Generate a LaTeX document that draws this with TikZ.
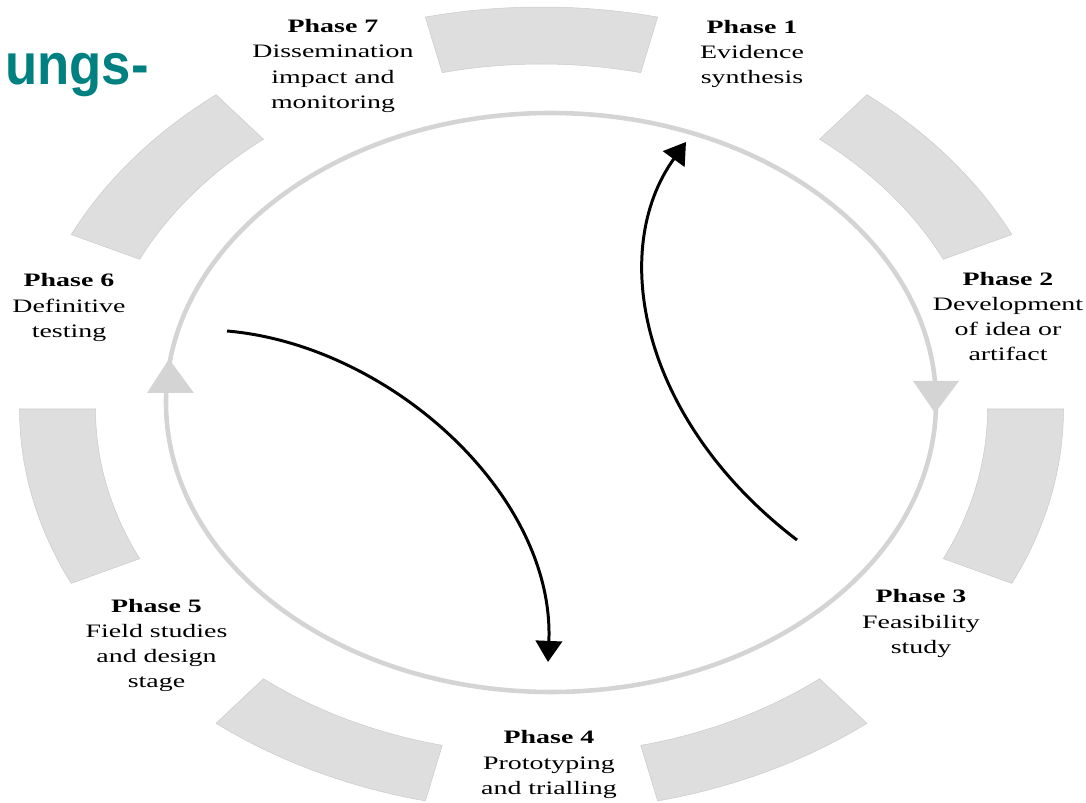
\documentclass[tikz,border=0pt]{standalone}
\usepackage{fontspec}
\setmainfont{Liberation Serif}
\newfontfamily\slidefont{Liberation Sans}
\usetikzlibrary{arrows.meta}

\definecolor{slideteal}{RGB}{0,128,128}
\definecolor{ringgray}{RGB}{222,222,222}
\definecolor{trackgray}{RGB}{212,212,212}

% label text is stretched sideways like the rest of the figure
\newcommand\phaselabel[2]{\scalebox{1.47}[1]{\begin{tabular}{@{}c@{}}\textbf{Phase #1}\\#2\end{tabular}}}

\begin{document}
\begin{tikzpicture}[x=0.02cm, y=0.02cm,
    phase/.style={font=\fontsize{10.8}{14.3}\selectfont, inner sep=0pt},
    segment/.style={fill=ringgray, draw=ringgray!92!black, line width=0.3pt},
    track/.style={draw=trackgray, line width=2.6pt},
    flow/.style={line width=1.7pt, -{Triangle[width=15pt,length=12pt]}}]

\clip (0,0) rectangle (1086,-803);

% outer ring: seven grey pieces, the gaps hold the labels
\foreach \i in {0,...,6}{% one piece between each pair of phases
    \pgfmathsetmacro\s{77.143-51.4286*\i}
    \pgfmathsetmacro\e{\s+25.714}
    \fill[segment, shift={(541.5,-409)}] (\s:522 and 402)
        arc[start angle=\s, end angle=\e, x radius=522, y radius=402]
        -- (\e:446 and 345)
        arc[start angle=\e, end angle=\s, x radius=446, y radius=345] -- cycle;}

% inner cycle with its two grey heads
\draw[track] (551,-402.5) ellipse[x radius=385, y radius=289.5];
\fill[trackgray] (913,-381) -- (959,-381) -- (935,-413) -- cycle;
\fill[trackgray] (147,-393) -- (194,-393) -- (169,-359) -- cycle;

%\draw[red] (541.5,-409) circle (3);

\node[phase] (p1) at (752,-53.5) {\phaselabel{1}{Evidence\\synthesis}};
\node[phase] (p2) at (1008,-318) {\phaselabel{2}{Development\\of idea or\\artifact}};
\node[phase] (p3) at (921,-623) {\phaselabel{3}{Feasibility\\study}};
\node[phase] (p4) at (549,-764) {\phaselabel{4}{Prototyping\\and trialling}};
\node[phase] (p5) at (156.5,-645) {\phaselabel{5}{Field studies\\and design\\stage}};
\node[phase] (p6) at (69,-307) {\phaselabel{6}{Definitive\\testing}};
\node[phase] (p7) at (333,-65.5) {\phaselabel{7}{Dissemination\\impact and\\monitoring}};

% the two feedback arrows across the middle
\coordinate (backstart) at (797,-540);
\coordinate (backend) at (686,-142);
\coordinate (jumpstart) at (227,-331);
\coordinate (jumpend) at (548,-662);
\draw[flow] (backstart) .. controls (640,-420) and (608,-250) .. (backend);
\draw[flow] (jumpstart) .. controls (390,-345) and (555,-495) .. (jumpend);

\node[anchor=base west, inner sep=0pt, text=slideteal,
    font=\slidefont\bfseries\fontsize{30}{36}\selectfont] (heading) at (5,-85) {\scalebox{1}[1.1]{ungs-}};

\end{tikzpicture}
\end{document}
